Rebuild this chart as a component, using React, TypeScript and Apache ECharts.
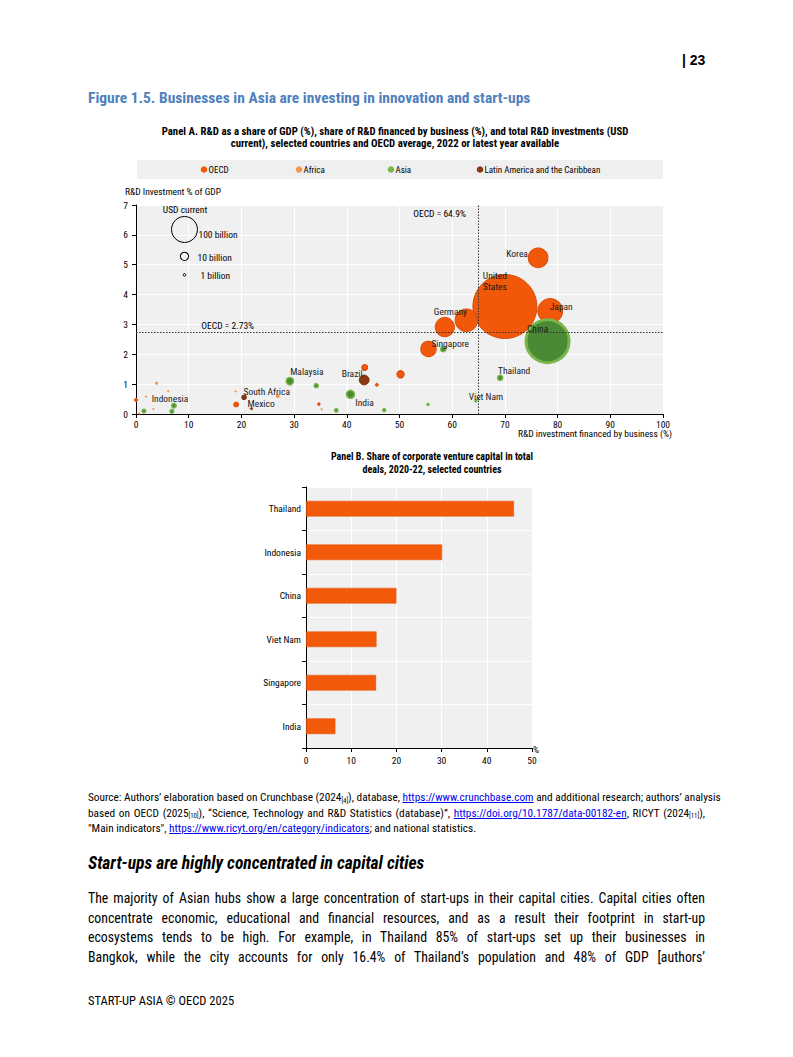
import React, { useEffect, useRef } from "react";
import * as echarts from "echarts";

// ---------- DATA ----------
// Panel A: [name, R&D financed by business (%), R&D % of GDP, total R&D (USD billion)]
const oecdPoints: [string, number, number, number][] = [
  ["United States", 70.0, 3.6, 606],
  ["Japan", 78.6, 3.45, 92],
  ["Korea", 76.3, 5.23, 57],
  ["Germany", 62.7, 3.14, 76],
  ["", 58.6, 2.91, 55],
  ["", 55.5, 2.18, 35],
  ["", 50.2, 1.33, 8],
  ["", 43.4, 1.56, 5.3],
  ["", 45.7, 0.98, 1.3],
  ["Mexico", 19.0, 0.32, 3.3],
  ["", 34.7, 0.33, 1],
  ["", 0.0, 0.47, 1.5],
];
const africaPoints: [string, number, number, number][] = [
  ["South Africa", 26.9, 0.6, 2.3],
  ["", 3.9, 1.03, 1.5],
  ["", 18.9, 0.76, 0.2],
  ["", 6.1, 0.77, 0.1],
  ["", 3.3, 0.16, 0.1],
  ["", 1.9, 0.58, 0.1],
  ["", 0.6, 0.02, 0.3],
  ["", 35.2, 0.16, 0.15],
];
const asiaPoints: [string, number, number, number][] = [
  ["China", 78.1, 2.44, 274],
  ["Singapore", 58.3, 2.17, 4],
  ["Thailand", 69.1, 1.21, 4],
  ["Viet Nam", 64.5, 0.44, 0.6],
  ["India", 40.7, 0.66, 9.5],
  ["Malaysia", 29.2, 1.1, 8],
  ["Indonesia", 7.2, 0.28, 3],
  ["", 34.2, 0.95, 2.4],
  ["", 38.0, 0.12, 1.6],
  ["", 47.1, 0.13, 1.3],
  ["", 55.4, 0.32, 0.6],
  ["", 1.5, 0.1, 2],
  ["", 6.8, 0.09, 2],
];
const latamPoints: [string, number, number, number][] = [
  ["Brazil", 43.3, 1.14, 14],
  ["", 20.5, 0.56, 3],
  ["", 21.9, 0.18, 0.2],
];
const oecdAvgGdp = 2.73;
const oecdAvgBusiness = 64.9;
const sizeLegend: [string, number, number, number][] = [
  ["100 billion", 9.2, 6.18, 100],
  ["10 billion", 9.2, 5.28, 10],
  ["1 billion", 9.2, 4.66, 1],
];

// Panel B
const cvcCountries = ["Thailand", "Indonesia", "China", "Viet Nam", "Singapore", "India"];
const cvcShares = [46.0, 30.1, 20.0, 15.6, 15.5, 6.5];

// ---------- STYLE ----------
const FN = "'Liberation Sans Narrow','Arial Narrow','Roboto Condensed','DejaVu Sans Condensed',sans-serif";
const C_OECD = "#f1580a";
const C_AFRICA = "#f7964b";
const C_ASIA = "#79b548";
const C_ASIA_DARK = "#4a8a35";
const C_LATAM = "#8b3810";

const A = { left: 136, right: 663, top: 205, bottom: 414 };
const B = { left: 306, right: 532, top: 487, bottom: 748 };

const labelOffsets: Record<string, [number, number]> = {
  Korea: [-21, -4],
  "United States": [-10, -26],
  Japan: [11, -4],
  China: [-10, -13],
  Germany: [-16, -9],
  Singapore: [7, -6],
  Thailand: [14, -7],
  "Viet Nam": [10, -4],
  Malaysia: [17, -10],
  Brazil: [-12, -6],
  India: [14, 8],
  "South Africa": [-11, -5],
  Mexico: [25, -1],
  Indonesia: [-4, -7],
};
const sizeLegendOffsets: Record<string, [number, number]> = {
  "100 billion": [14, 5],
  "10 billion": [13, 1],
  "1 billion": [16, 1],
};
const displayName: Record<string, string> = { "United States": "United\nStates" };

const bubbleSize = (v: number[]) => Math.max(2, 2.6 * Math.sqrt(v[2]));

function buildData(points: [string, number, number, number][], big?: boolean) {
  return [...points]
    .sort((a, b) => b[3] - a[3])
    .map((p) => {
      const item: any = { name: p[0], value: [p[1], p[2], p[3]] };
      if (labelOffsets[p[0]]) {
        item.label = { show: true, offset: labelOffsets[p[0]] };
      }
      if (big && p[3] > 100) item.itemStyle = { borderWidth: 3 };
      return item;
    });
}

const pointLabel = {
  show: false,
  position: "inside",
  fontFamily: FN,
  fontSize: 9.5,
  color: "#1a1a1a",
  lineHeight: 11,
  formatter: (p: any) => displayName[p.name] || p.name,
};

export default function App() {
  const ref = useRef<HTMLDivElement>(null);

  useEffect(() => {
    if (!ref.current) return;
    const chart = echarts.init(ref.current, undefined, { renderer: "svg" });
    const axisText = { fontFamily: FN, fontSize: 9.5, color: "#000" };

    const legendItems = [
      { name: "OECD", color: C_OECD, x: 204 },
      { name: "Africa", color: C_AFRICA, x: 299 },
      { name: "Asia", color: C_ASIA, x: 391 },
      { name: "Latin America and the Caribbean", color: C_LATAM, x: 480 },
    ];

    const xPx = (v: number) => A.left + ((A.right - A.left) * v) / 100;
    const yPx = (v: number) => A.bottom - ((A.bottom - A.top) * v) / 7;

    const graphic: any[] = [
      {
        type: "text",
        left: 88,
        top: 90,
        style: { text: "Figure 1.5. Businesses in Asia are investing in innovation and start-ups", fontFamily: FN, fontSize: 15.5, fontWeight: "bold", fill: "#4f81bd" },
      },
      {
        type: "text",
        x: 395,
        y: 125,
        style: {
          text: "Panel A. R&D as a share of GDP (%), share of R&D financed by business (%), and total R&D investments (USD\ncurrent), selected countries and OECD average, 2022 or latest year available",
          fontFamily: FN, fontSize: 10.8, fontWeight: "bold", fill: "#000", align: "center", lineHeight: 12,
        },
      },
      { type: "rect", shape: { x: 137, y: 160, width: 526, height: 19 }, style: { fill: "#efefef" }, z: 0 },
      ...legendItems.flatMap((it) => [
        { type: "circle", shape: { cx: it.x, cy: 169.5, r: 3.3 }, style: { fill: it.color } },
        { type: "text", x: it.x + 4.5, y: 169.5, style: { text: it.name, fontFamily: FN, fontSize: 9, fill: "#000", verticalAlign: "middle" } },
      ]),
      { type: "text", x: A.left - 11, y: 191, style: { text: "R&D Investment % of GDP", fontFamily: FN, fontSize: 9.5, fill: "#000", verticalAlign: "middle" } },
      { type: "text", x: 672, y: 433.5, style: { text: "R&D investment financed by business (%)", fontFamily: FN, fontSize: 9.5, fill: "#000", align: "right", verticalAlign: "middle" } },
      { type: "text", x: 185, y: 209, z: 10, style: { text: "USD current", fontFamily: FN, fontSize: 9.5, fill: "#000", align: "center", verticalAlign: "middle" } },
      { type: "text", x: xPx(12.4), y: yPx(oecdAvgGdp) - 7, z: 10, style: { text: "OECD = " + oecdAvgGdp + "%", fontFamily: FN, fontSize: 9.5, fill: "#000", verticalAlign: "middle" } },
      { type: "text", x: xPx(oecdAvgBusiness) - 12, y: 213, z: 10, style: { text: "OECD = " + oecdAvgBusiness + "%", fontFamily: FN, fontSize: 9.5, fill: "#000", align: "right", verticalAlign: "middle" } },
      {
        type: "text",
        x: 432,
        y: 463,
        style: {
          text: "Panel B. Share of corporate venture capital in total\ndeals, 2020-22, selected countries",
          fontFamily: FN, fontSize: 10, fontWeight: "bold", fill: "#000", align: "center", verticalAlign: "middle", lineHeight: 12.5,
        },
      },
      { type: "text", x: B.right + 4, y: 749, style: { text: "%", fontFamily: FN, fontSize: 9.5, fill: "#000", align: "center", verticalAlign: "middle" } },
    ];

    chart.setOption({
      animation: false,
      backgroundColor: "#fff",
      textStyle: { fontFamily: FN },
      graphic,
      grid: [
        { left: A.left, top: A.top, width: A.right - A.left, height: A.bottom - A.top, show: true, backgroundColor: "#f0f0f0", borderWidth: 0 },
        { left: B.left, top: B.top, width: B.right - B.left, height: B.bottom - B.top, show: true, backgroundColor: "#f0f0f0", borderWidth: 0 },
      ],
      xAxis: [
        {
          gridIndex: 0, type: "value", min: 0, max: 100, interval: 10,
          axisLine: { show: true, onZero: false, lineStyle: { color: "#000", width: 1 } },
          axisTick: { show: true, length: 4, lineStyle: { color: "#000" } },
          axisLabel: { ...axisText, margin: 5 },
          splitLine: { show: true, lineStyle: { color: "#fff", width: 1 } },
        },
        {
          gridIndex: 1, type: "value", min: 0, max: 50, interval: 10,
          axisLine: { show: true, onZero: false, lineStyle: { color: "#000", width: 1 } },
          axisTick: { show: true, length: 4, lineStyle: { color: "#000" } },
          axisLabel: { ...axisText, margin: 7 },
          splitLine: { show: true, lineStyle: { color: "#fff", width: 1 } },
        },
      ],
      yAxis: [
        {
          gridIndex: 0, type: "value", min: 0, max: 7, interval: 1,
          axisLine: { show: true, onZero: false, lineStyle: { color: "#000", width: 1 } },
          axisTick: { show: true, length: 4, lineStyle: { color: "#000" } },
          axisLabel: { ...axisText, margin: 8 },
          splitLine: { show: true, lineStyle: { color: "#fff", width: 1 } },
        },
        {
          gridIndex: 1, type: "category", data: cvcCountries, inverse: true,
          axisLine: { show: true, onZero: false, lineStyle: { color: "#000", width: 1 } },
          axisTick: { show: true, length: 4, lineStyle: { color: "#000" } },
          axisLabel: { ...axisText, margin: 5 },
          splitLine: { show: true, lineStyle: { color: "#fff", width: 1 } },
        },
      ],
      series: [
        {
          type: "line", name: "OECD average", xAxisIndex: 0, yAxisIndex: 0, data: [], z: 1,
          markLine: {
            silent: true, symbol: "none", label: { show: false },
            lineStyle: { type: [1.5, 1.5], color: "#333", width: 1 },
            data: [{ yAxis: oecdAvgGdp }, { xAxis: oecdAvgBusiness }],
          },
        },
        {
          type: "scatter", name: "OECD", xAxisIndex: 0, yAxisIndex: 0, z: 2,
          data: buildData(oecdPoints), symbolSize: bubbleSize,
          itemStyle: { color: C_OECD, borderColor: "#d84a0a", borderWidth: 1, opacity: 1 },
          label: pointLabel,
        },
        {
          type: "scatter", name: "Africa", xAxisIndex: 0, yAxisIndex: 0, z: 3,
          data: buildData(africaPoints), symbolSize: bubbleSize,
          itemStyle: { color: C_AFRICA, opacity: 1 },
          label: pointLabel,
        },
        {
          type: "scatter", name: "Latin America and the Caribbean", xAxisIndex: 0, yAxisIndex: 0, z: 3,
          data: buildData(latamPoints), symbolSize: bubbleSize,
          itemStyle: { color: C_LATAM, borderColor: "#7a300c", borderWidth: 1, opacity: 1 },
          label: pointLabel,
        },
        {
          type: "scatter", name: "Asia", xAxisIndex: 0, yAxisIndex: 0, z: 4,
          data: buildData(asiaPoints, true), symbolSize: bubbleSize,
          itemStyle: { color: C_ASIA_DARK, borderColor: C_ASIA, borderWidth: 1.5, opacity: 1 },
          label: pointLabel,
        },
        {
          type: "scatter", name: "Size legend", xAxisIndex: 0, yAxisIndex: 0, z: 5,
          data: sizeLegend.map((p) => ({ name: p[0], value: [p[1], p[2], p[3]], label: { offset: sizeLegendOffsets[p[0]] } })),
          symbolSize: bubbleSize,
          itemStyle: { color: "rgba(0,0,0,0)", borderColor: "#000", borderWidth: 1, opacity: 1 },
          label: { show: true, position: "inside", align: "left", fontFamily: FN, fontSize: 9.5, color: "#000", formatter: (p: any) => p.name },
        },
        {
          type: "bar", name: "Share of corporate venture capital", xAxisIndex: 1, yAxisIndex: 1,
          data: cvcShares, barWidth: "36%",
          itemStyle: { color: "#f25a0a", borderColor: "#e4500a", borderWidth: 0.5 },
        },
      ],
    });
    return () => chart.dispose();
  }, []);

  const narrow = FN;
  const lineStyle: React.CSSProperties = { width: 617, textAlign: "justify", textAlignLast: "justify", whiteSpace: "nowrap", overflow: "visible" } as any;
  const link: React.CSSProperties = { color: "#0000ee", textDecoration: "underline" };
  const sub: React.CSSProperties = { fontSize: "0.6em", position: "relative", top: "0.25em", lineHeight: 0 };

  return (
    <div style={{ position: "absolute", left: 0, top: 0, width: 793, height: 1057, background: "#fff", fontFamily: narrow, color: "#000" }}>
      <div ref={ref} style={{ position: "absolute", left: 0, top: 0, width: 793, height: 1057 }} />
      <div style={{ position: "absolute", left: 682, top: 52, fontFamily: "'Liberation Sans', Arial, sans-serif", fontWeight: "bold", fontSize: 14 }}>| 23</div>
      <div style={{ position: "absolute", left: 88, top: 790, fontSize: 11.3, lineHeight: "15.5px" }}>
        <div style={lineStyle}>
          Source: Authors’ elaboration based on Crunchbase (2024<span style={sub}>[4]</span>), database, <span style={link}>https://www.crunchbase.com</span> and additional research; authors’ analysis
        </div>
        <div style={lineStyle}>
          based on OECD (2025<span style={sub}>[10]</span>), “Science, Technology and R&amp;D Statistics (database)”, <span style={link}>https://doi.org/10.1787/data-00182-en</span>, RICYT (2024<span style={sub}>[11]</span>),
        </div>
        <div style={{ whiteSpace: "nowrap" }}>
          "Main indicators", <span style={link}>https://www.ricyt.org/en/category/indicators</span>; and national statistics.
        </div>
      </div>
      <div style={{ position: "absolute", left: 88, top: 853, fontSize: 17.5, fontWeight: "bold", fontStyle: "italic", whiteSpace: "nowrap" }}>
        Start-ups are highly concentrated in capital cities
      </div>
      <div style={{ position: "absolute", left: 88, top: 889, fontSize: 13.8, lineHeight: "19.7px" }}>
        <div style={lineStyle}>The majority of Asian hubs show a large concentration of start-ups in their capital cities. Capital cities often</div>
        <div style={lineStyle}>concentrate economic, educational and financial resources, and as a result their footprint in start-up</div>
        <div style={lineStyle}>ecosystems tends to be high. For example, in Thailand 85% of start-ups set up their businesses in</div>
        <div style={lineStyle}>Bangkok, while the city accounts for only 16.4% of Thailand’s population and 48% of GDP [authors’</div>
      </div>
      <div style={{ position: "absolute", left: 88, top: 993, fontSize: 12.5, whiteSpace: "nowrap" }}>START-UP ASIA © OECD 2025</div>
    </div>
  );
}
